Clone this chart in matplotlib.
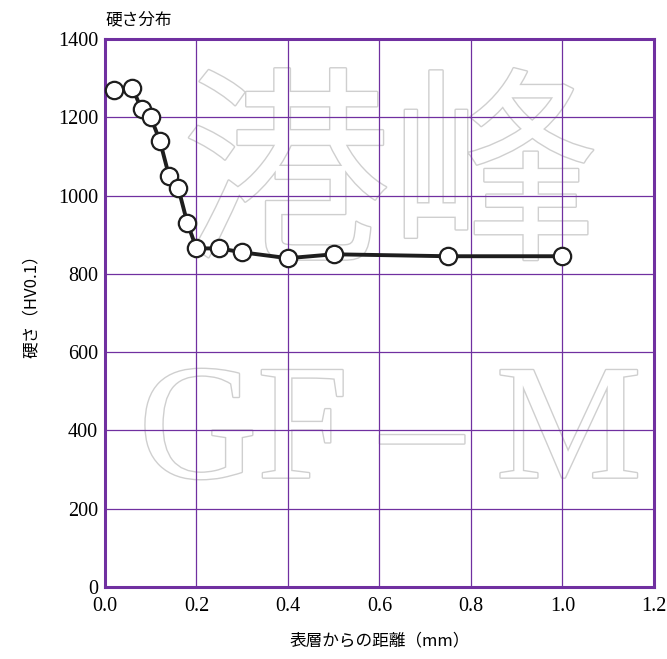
import matplotlib.pyplot as plt
import matplotlib.patheffects as pe

plt.rcParams['font.family'] = 'Liberation Serif'

# data
depth = [0.02, 0.06, 0.08, 0.10, 0.12, 0.14, 0.16, 0.18, 0.20, 0.25, 0.30, 0.40, 0.50, 0.75, 1.00]
hardness = [1270, 1275, 1220, 1200, 1140, 1050, 1020, 930, 865, 865, 855, 840, 850, 845, 845]
xticks = [0.0, 0.2, 0.4, 0.6, 0.8, 1.0, 1.2]
yticks = [0, 200, 400, 600, 800, 1000, 1200, 1400]

purple = '#7030a0'
jp = 'Noto Sans CJK JP'

fig = plt.figure(figsize=(6.67, 6.59), dpi=100)
ax = fig.add_axes([0.1574, 0.1093, 0.8231, 0.8315])
ax.set_zorder(2)
ax.set_facecolor('none')

# faint watermark behind the plot
wm = dict(color='white', zorder=0, transform=fig.transFigure,
          path_effects=[pe.withStroke(linewidth=2.0, foreground='#cfcfcf')])
fig.text(0.585, 0.335, 'GF\u2009\u2013\u2009M', ha='center', va='center', fontsize=118,
         family='Liberation Serif', **wm)
fig.text(0.585, 0.72, '港峰', ha='center', va='center', fontsize=150,
         family=jp, **wm)

ax.plot(depth, hardness, color='#1e1e1e', lw=2.8, marker='o', ms=12.5,
        mfc='white', mec='#1e1e1e', mew=1.6, zorder=5, clip_on=False)

ax.set_xlim(0, 1.2)
ax.set_ylim(0, 1400)
ax.set_xticks(xticks)
ax.set_xticklabels([f'{t:.1f}' for t in xticks], fontsize=14.5)
ax.set_yticks(yticks)
ax.set_yticklabels([str(t) for t in yticks], fontsize=14.5)
ax.grid(True, color=purple, lw=0.9)
ax.set_axisbelow(True)
ax.tick_params(length=0)
ax.tick_params(axis='x', pad=7)
ax.tick_params(axis='y', pad=5)
for s in ax.spines.values():
    s.set_color(purple)
    s.set_linewidth(2.2)

ax.set_xlabel('表層からの距離（mm）', fontsize=12, labelpad=12, family=jp)
ax.set_ylabel('硬さ（HV0.1）', fontsize=12, family=jp)
ax.yaxis.set_label_coords(-0.118, 0.52)
ax.text(0.0, 1.02, '硬さ分布', transform=ax.transAxes, fontsize=12,
        family=jp, ha='left', va='bottom')

fig.savefig('out.png', dpi=100)
